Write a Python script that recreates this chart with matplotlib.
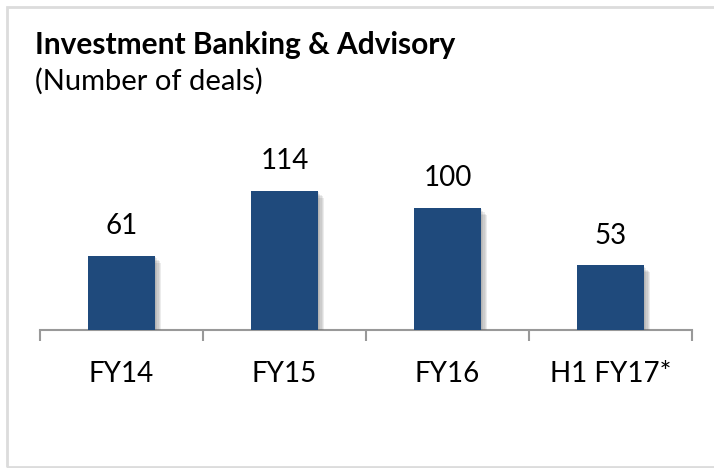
import matplotlib.pyplot as plt
import matplotlib.patheffects as pe
from matplotlib.patches import Rectangle

plt.rcParams['font.family'] = ['Lato', 'DejaVu Sans']

categories = ["FY14", "FY15", "FY16", "H1 FY17*"]
deals = [61, 114, 100, 53]

W, H = 714, 468
fig = plt.figure(figsize=(W / 100, H / 100), dpi=100)

# light grey frame around the chart (cut at right/bottom edge)
fig.patches.append(Rectangle((7 / W, 1 / H), 1.2, 460 / H, transform=fig.transFigure,
                             fill=False, edgecolor="#dcdcdc", linewidth=2))

fig.text(35 / W, 1 - 31 / H, "Investment Banking & Advisory", fontsize=21.5,
         fontweight="bold", va="top", ha="left", color="black")
fig.text(35 / W, 1 - 68 / H, "(Number of deals)", fontsize=21,
         va="top", ha="left", color="black")

ax = fig.add_axes([40 / W, 138 / H, 652 / W, 183 / H])
x = range(len(categories))
bars = ax.bar(x, deals, width=0.405, color="#1F4A7C", zorder=3)
# soft shadow: a few stacked translucent offsets
shadow = [pe.SimplePatchShadow(offset=(d, -d), shadow_rgbFace="#666666", alpha=0.12)
          for d in (1, 2, 3, 4, 5)]
for b in bars:
    b.set_path_effects(shadow + [pe.Normal()])

for i, v in enumerate(deals):
    ax.annotate(str(v), (i, v), xytext=(0, 12), textcoords="offset points",
                ha="center", va="bottom", fontsize=20)

ax.set_xlim(-0.5, 3.5)
ax.set_ylim(0, 150)
for s in ["top", "right", "left"]:
    ax.spines[s].set_visible(False)
ax.spines["bottom"].set_color("#999999")
ax.spines["bottom"].set_linewidth(1.5)
ax.set_yticks([])

ax.set_xticks([-0.5, 0.5, 1.5, 2.5, 3.5])
ax.set_xticklabels([])
ax.tick_params(axis="x", which="major", direction="out", length=8, width=1.5, color="#999999")
ax.set_xticks(list(x), minor=True)
ax.set_xticklabels(categories, minor=True, fontsize=20)
ax.tick_params(axis="x", which="minor", length=0, pad=22)

fig.savefig("out.png", dpi=100)
